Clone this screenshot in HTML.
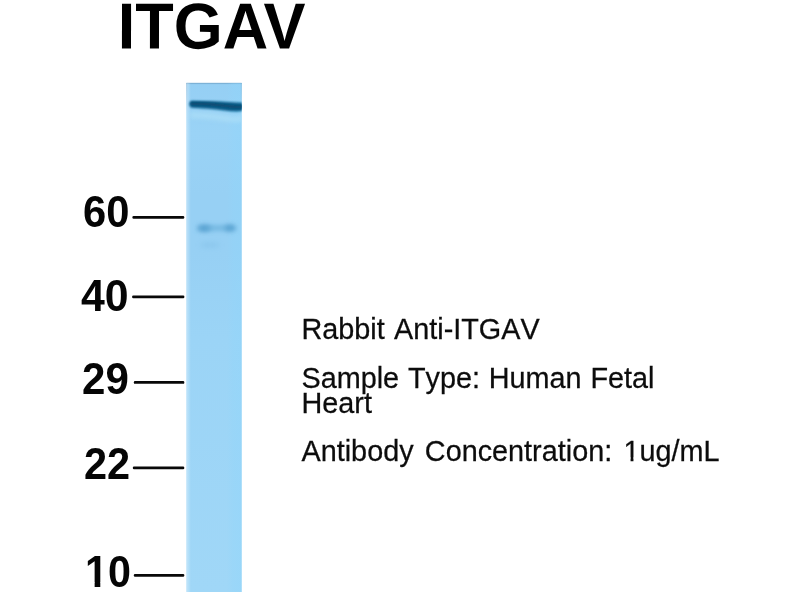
<!DOCTYPE html>
<html><head><meta charset="utf-8">
<style>
html,body{margin:0;padding:0;background:#fff;}
body{width:800px;height:600px;position:relative;overflow:hidden;font-family:"Liberation Sans",Arial,sans-serif;color:#000;}
.t{position:absolute;white-space:nowrap;line-height:1;transform-origin:0 0;}
.m{font-weight:bold;font-size:44.4px;transform:scaleX(0.93);color:#050505;}
.r{font-size:28.8px;left:301.5px;transform:scale(1,1.04);color:#0c0c0c;font-kerning:none;-webkit-text-stroke:0.25px #0c0c0c;}
#lane{position:absolute;left:180px;top:76px;width:70px;height:524px;}
</style></head><body>
<svg style="position:absolute;left:0;top:0" width="800" height="80" viewBox="0 0 800 80"><text x="0" y="0" transform="translate(117.75,48.5) rotate(0.03) scale(0.9685,1)" font-family="Liberation Sans, Arial, sans-serif" font-weight="bold" font-size="65" fill="#000">ITGAV</text></svg>
<svg id="lane" viewBox="0 0 70 524">
<defs>
<linearGradient id="lg" x1="0" y1="0" x2="0" y2="1">
<stop offset="0" stop-color="#95cff4"/><stop offset="0.1" stop-color="#9ad3f6"/><stop offset="0.22" stop-color="#97d0f4"/><stop offset="0.33" stop-color="#97d0f4"/><stop offset="0.5" stop-color="#9bd4f6"/><stop offset="1" stop-color="#a0d7f7"/>
</linearGradient>
<linearGradient id="rg" x1="0" y1="0" x2="1" y2="0"><stop offset="0" stop-color="#8fd6fb" stop-opacity="0"/><stop offset="0.4" stop-color="#8fd6fb" stop-opacity="0.3"/><stop offset="1" stop-color="#8fd6fb" stop-opacity="0.4"/></linearGradient>
<linearGradient id="eg" x1="0" y1="0" x2="0" y2="1"><stop offset="0" stop-color="#5f8fb4" stop-opacity="0.4"/><stop offset="1" stop-color="#5f8fb4" stop-opacity="0"/></linearGradient>
<linearGradient id="le" x1="0" y1="0" x2="1" y2="0"><stop offset="0" stop-color="#fff" stop-opacity="0.38"/><stop offset="1" stop-color="#fff" stop-opacity="0"/></linearGradient>
<filter id="b1" x="-20%" y="-100%" width="140%" height="300%"><feGaussianBlur stdDeviation="1.1"/></filter>
<filter id="b2" x="-30%" y="-150%" width="160%" height="400%"><feGaussianBlur stdDeviation="2.6"/></filter>
<filter id="b3" x="-10%" y="-10%" width="120%" height="120%"><feGaussianBlur stdDeviation="0.6"/></filter>
<clipPath id="cp"><rect x="6.4" y="6.9" width="55.3" height="509.1"/></clipPath>
</defs>
<rect x="6.4" y="6.9" width="55.3" height="509.1" fill="url(#lg)" filter="url(#b3)"/>
<rect x="6.4" y="6.8" width="55.3" height="1.3" fill="#5f8fb4" opacity="0.45" filter="url(#b3)"/>
<rect x="6.3" y="7" width="1" height="30" fill="url(#eg)"/><rect x="60.8" y="7" width="1" height="30" fill="url(#eg)"/>
<g clip-path="url(#cp)">
<rect x="6.4" y="6.9" width="4.5" height="510" fill="url(#le)"/>
<rect x="47" y="6.7" width="15" height="510" fill="url(#rg)"/>
<path d="M10 39 Q 30 39.5 44 42 T 64 41.5" stroke="#b4e3f8" stroke-width="5" fill="none" filter="url(#b2)" opacity="0.75"/>
<path d="M9.3 28 Q9.6 24.8 12 24.7 L35 25.3 L58 26.5 L64 26.7 L64 34.8 L57 35.6 Q50 35.6 44 34.6 Q36 33.4 28 32.8 L12 31.8 Q9.5 31.6 9.3 28Z" fill="#0d618c" filter="url(#b1)"/>
<path d="M12 27.6 Q 34 28 46 29.8 T 63 30.6" stroke="#074c72" stroke-width="3.2" stroke-linecap="round" fill="none" filter="url(#b1)"/>
<ellipse cx="24" cy="152.2" rx="7" ry="3" fill="#539dcd" filter="url(#b2)"/>
<ellipse cx="50.3" cy="152" rx="6" ry="3" fill="#539dcd" filter="url(#b2)"/>
<rect x="20" y="150" width="32" height="4" fill="#5aa5d3" filter="url(#b2)" opacity="0.8"/>
<ellipse cx="30" cy="169" rx="10" ry="2.5" fill="#86c2e9" filter="url(#b2)" opacity="0.7"/>
</g>
</svg>
<div class="t m" style="left:82.5px;top:190px;transform:scaleX(0.939)">60</div>
<div class="t m" style="left:80.5px;top:274px;transform:scaleX(0.9635)">40</div>
<div class="t m" style="left:82.4px;top:357px;transform:scaleX(0.947)">29</div>
<div class="t m" style="left:83.7px;top:442.4px;transform:scaleX(0.935)">22</div>
<div class="t m" style="left:84.9px;top:550px;transform:scaleX(0.93)"><span>1</span><span>0</span></div>
<svg style="position:absolute;left:80px;top:576px" width="40" height="16" viewBox="0 0 40 16"><rect x="4" y="6" width="10.64" height="7" fill="#fff"/><rect x="20.29" y="6" width="8" height="7" fill="#fff"/></svg>
<svg style="position:absolute;left:0;top:0" width="800" height="600" viewBox="0 0 800 600"><rect x="132.4" y="216.05" width="51.9" height="2.75" rx="1.2" fill="#080808"/><rect x="132.1" y="295.45" width="52.3" height="2.75" rx="1.2" fill="#080808"/><rect x="133.8" y="381.1" width="50.5" height="2.75" rx="1.2" fill="#080808"/><rect x="132.8" y="466.5" width="51.5" height="2.75" rx="1.2" fill="#080808"/><rect x="133.8" y="573.9" width="50.5" height="2.75" rx="1.2" fill="#080808"/></svg>
<div class="t r" style="top:314.4px;word-spacing:1.3px">Rabbit Anti-ITGAV</div>
<div class="t r" style="top:362.9px;word-spacing:0.8px">Sample Type: Human Fetal</div>
<div class="t r" style="top:387.55px">Heart</div>
<div class="t r" style="top:436.35px;word-spacing:3.3px">Antibody Concentration: 1ug/mL</div>
<svg style="position:absolute;left:0;top:0" width="800" height="600" viewBox="0 0 800 600"><rect x="623" y="457.4" width="7.56" height="5.6" fill="#fff"/><rect x="633.45" y="457.4" width="6.2" height="5.6" fill="#fff"/></svg>
</body></html>
